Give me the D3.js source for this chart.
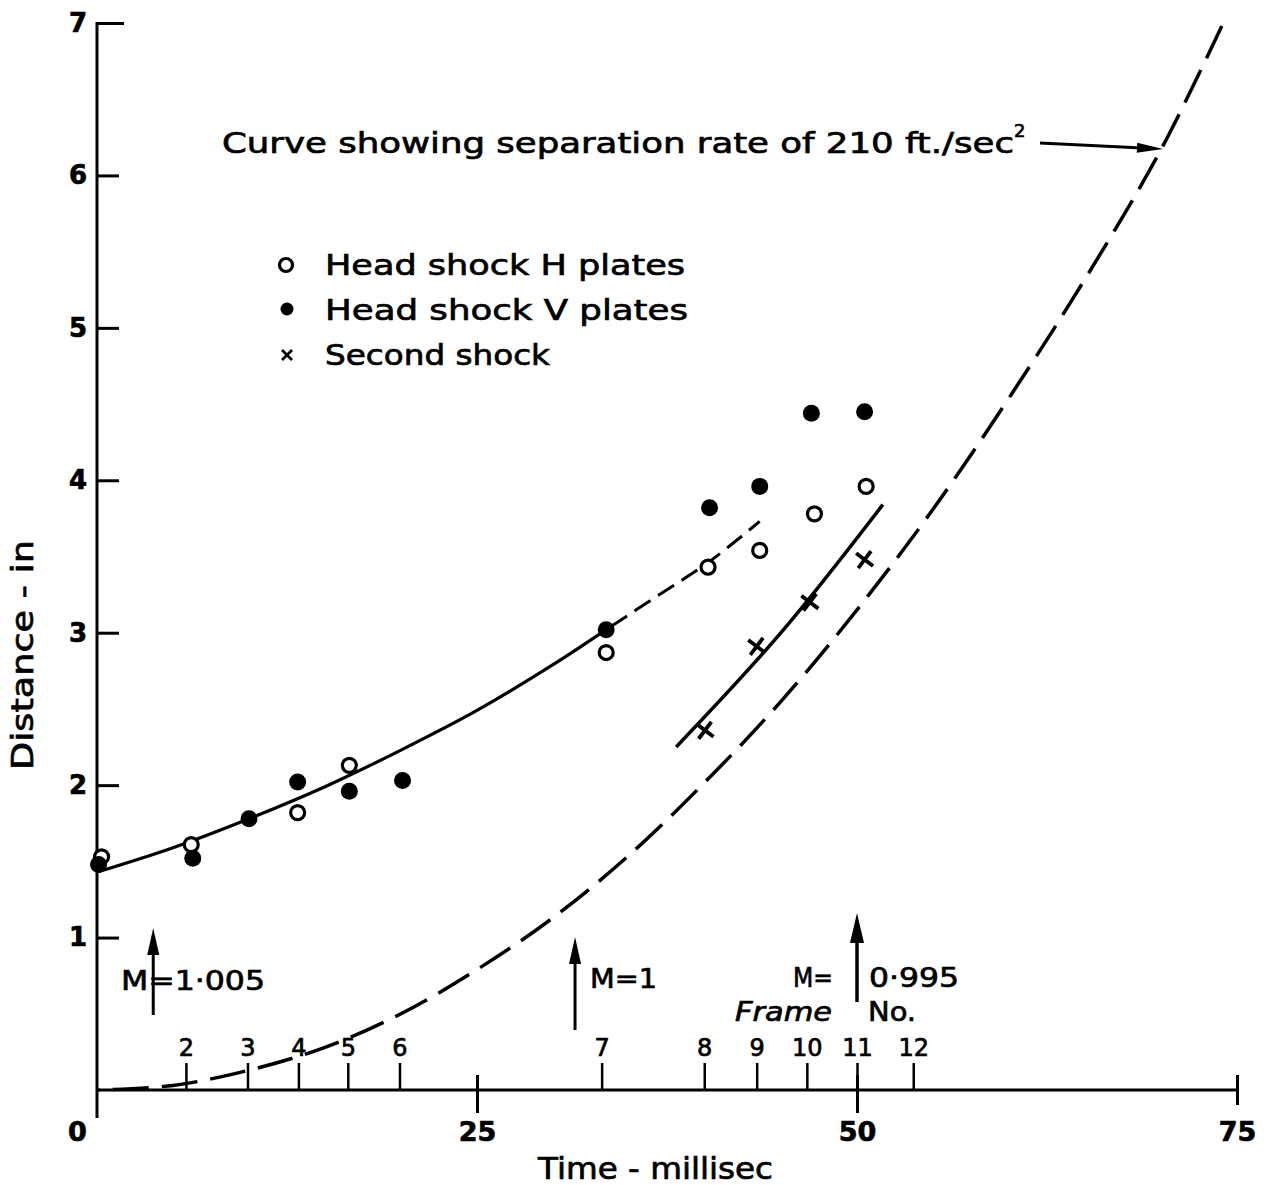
<!DOCTYPE html>
<html><head><meta charset="utf-8">
<script src="https://cdn.jsdelivr.net/npm/d3@7"></script>
<style>
html,body{margin:0;padding:0;background:#fff;}
svg{display:block;}
text{font-family:"DejaVu Sans",sans-serif;fill:#000;stroke:#000;stroke-width:0.7px;}
</style></head>
<body><svg id="c" width="1275" height="1185"></svg>
<script>
// ---- data ----
const hTime = [0.3, 6.2, 13.2, 16.6, 33.5, 40.2, 43.6, 47.2, 50.6];
const hDist = [1.53, 1.61, 1.82, 2.13, 2.87, 3.43, 3.54, 3.78, 3.96];
const vTime = [0.1, 6.3, 10.0, 13.2, 16.6, 20.1, 33.5, 40.3, 43.6, 47.0, 50.5];
const vDist = [1.48, 1.52, 1.78, 2.02, 1.96, 2.03, 3.02, 3.82, 3.96, 4.44, 4.45];
const sTime = [40.0, 43.4, 46.9, 50.5];
const sDist = [2.36, 2.91, 3.20, 3.48];

const headSolidT = [0, 5, 10, 15, 20, 25, 30, 33.5];
const headSolidD = [1.43, 1.59, 1.78, 1.99, 2.23, 2.49, 2.79, 3.02];
const headDashT = [33.5, 37, 40.2, 43.6];
const headDashD = [3.02, 3.25, 3.46, 3.73];
const secondT = [38.1, 45, 51.7];
const secondD = [2.25, 3.0, 3.84];
const sepT = [0, 5, 10, 15, 20, 25, 30, 35, 40, 45, 50, 55, 60, 65, 70, 74.0];
const sepD = [0, 0.03, 0.13, 0.28, 0.50, 0.79, 1.13, 1.54, 2.02, 2.55, 3.15, 3.81, 4.54, 5.32, 6.17, 6.98];

const xTicks = [0, 25, 50, 75];
const yTicks = [1, 2, 3, 4, 5, 6, 7];
const frameNo = ['2','3','4','5','6','7','8','9','10','11','12'];
const frameTime = [5.85, 9.9, 13.25, 16.5, 19.9, 33.2, 39.95, 43.4, 46.7, 50.0, 53.7];

const machT = [3.7, 31.45, 50.0];
const machLabels = ['M=1·005', 'M=1', '0·995'];

// ---- drawing ----
const svg = d3.select('#c');
const x = d3.scaleLinear().domain([0, 75]).range([97, 1237]);
const y = d3.scaleLinear().domain([0, 7]).range([1090, 23]);

// Y axis
const yAx = svg.append('g').attr('transform', `translate(${x(0)},0)`)
  .call(d3.axisLeft(y).tickValues(yTicks).tickSize(-22).tickPadding(10).tickFormat(d3.format('d')));
yAx.select('.domain').remove();
yAx.selectAll('line').attr('stroke', '#000').attr('stroke-width', 3);
yAx.selectAll('text').attr('font-size', 26).attr('font-weight', 'bold').attr('font-family', '"DejaVu Sans",sans-serif');
yAx.selectAll('.tick').filter(d => d === 7).select('line').attr('x2', 27);
svg.append('line').attr('x1', x(0)).attr('x2', x(0)).attr('y1', y(7) - 1).attr('y2', y(0) + 28)
  .attr('stroke', '#000').attr('stroke-width', 3);

// X axis
const xAx = svg.append('g').attr('transform', `translate(0,${y(0)})`)
  .call(d3.axisBottom(x).tickValues(xTicks).tickSize(23).tickPadding(9).tickFormat(d3.format('d')));
xAx.select('.domain').remove();
xAx.selectAll('line').attr('stroke', '#000').attr('stroke-width', 3).attr('y1', d => d === 0 ? 0 : -15);
xAx.selectAll('.tick').filter(d => d === 75).select('line').attr('y2', 15);
xAx.selectAll('.tick').filter(d => d === 0).select('line').remove();
xAx.selectAll('text').attr('font-size', 27).attr('font-weight', 'bold').attr('font-family', '"DejaVu Sans",sans-serif')
  .attr('dx', d => d === 0 ? -20 : 0);
svg.append('line').attr('x1', x(0)).attr('x2', x(75)).attr('y1', y(0)).attr('y2', y(0))
  .attr('stroke', '#000').attr('stroke-width', 3);

// Frame axis
const fAx = svg.append('g').attr('transform', `translate(0,${y(0)})`)
  .call(d3.axisTop(x).tickValues(frameTime).tickSize(27).tickPadding(7).tickFormat((d, i) => frameNo[i]));
fAx.select('.domain').remove();
fAx.selectAll('line').attr('stroke', '#000').attr('stroke-width', 2.5);
fAx.selectAll('text').attr('font-size', 24).attr('font-family', '"DejaVu Sans",sans-serif');

// Curves
const line = d3.line().x(d => x(d[0])).y(d => y(d[1])).curve(d3.curveCatmullRom);
const zip = (a, b) => a.map((v, i) => [v, b[i]]);
svg.append('path').attr('d', line(zip(headSolidT, headSolidD))).attr('fill', 'none').attr('stroke', '#000').attr('stroke-width', 3.2);
svg.append('path').attr('d', line(zip(headDashT, headDashD))).attr('fill', 'none').attr('stroke', '#000').attr('stroke-width', 3)
  .attr('stroke-dasharray', '19 9').attr('stroke-dashoffset', -6);
svg.append('path').attr('d', line.curve(d3.curveNatural)(zip(secondT, secondD))).attr('fill', 'none').attr('stroke', '#000').attr('stroke-width', 3.5);
line.curve(d3.curveCatmullRom);
const sep = svg.append('path').attr('d', line(zip(sepT, sepD))).attr('fill', 'none').attr('stroke', '#000').attr('stroke-width', 3.5)
  .attr('stroke-dasharray', '36 13');
const L = sep.node().getTotalLength();
sep.attr('stroke-dashoffset', ((36 - L) % 49 + 49) % 49);

// Markers
svg.append('g').selectAll('circle').data(zip(hTime, hDist)).join('circle')
  .attr('cx', d => x(d[0])).attr('cy', d => y(d[1])).attr('r', 7)
  .attr('fill', '#fff').attr('stroke', '#000').attr('stroke-width', 3.2);
svg.append('g').selectAll('circle').data(zip(vTime, vDist)).join('circle')
  .attr('cx', d => x(d[0])).attr('cy', d => y(d[1])).attr('r', 8.5).attr('fill', '#000');
const cross = s => `M${-s},${-s}L${s},${s}M${-s},${s}L${s},${-s}`;
svg.append('g').selectAll('path').data(zip(sTime, sDist)).join('path')
  .attr('transform', d => `translate(${x(d[0])},${y(d[1])}) rotate(-8)`)
  .attr('d', cross(7.5)).attr('stroke', '#000').attr('stroke-width', 3.8).attr('fill', 'none');

// Arrow helper
function arrow(x1, y1, x2, y2, hl, hw, sw) {
  const a = Math.atan2(y2 - y1, x2 - x1);
  const bx = x2 - hl * Math.cos(a), by = y2 - hl * Math.sin(a);
  svg.append('line').attr('x1', x1).attr('y1', y1).attr('x2', bx).attr('y2', by)
    .attr('stroke', '#000').attr('stroke-width', sw);
  const px = -Math.sin(a) * hw, py = Math.cos(a) * hw;
  svg.append('path').attr('d', `M${x2},${y2}L${bx + px},${by + py}L${bx - px},${by - py}Z`).attr('fill', '#000');
}

// Mach arrows
arrow(x(machT[0]), 1015, x(machT[0]), 928, 27, 6, 3);
arrow(x(machT[1]), 1030, x(machT[1]), 937, 27, 6, 3);
arrow(x(machT[2]), 1002, x(machT[2]), 913, 30, 7, 3.5);
svg.append('text').attr('x', 121).attr('y', 990).attr('font-size', 27).attr('textLength', 144).attr('lengthAdjust', 'spacingAndGlyphs').text(machLabels[0]);
svg.append('text').attr('x', 590).attr('y', 988).attr('font-size', 27).attr('textLength', 67).attr('lengthAdjust', 'spacingAndGlyphs').text(machLabels[1]);
svg.append('text').attr('x', 793).attr('y', 987).attr('font-size', 27).attr('textLength', 40).attr('lengthAdjust', 'spacingAndGlyphs').text('M=');
svg.append('text').attr('x', 869).attr('y', 987).attr('font-size', 27).attr('textLength', 90).attr('lengthAdjust', 'spacingAndGlyphs').text(machLabels[2]);
svg.append('text').attr('x', 735).attr('y', 1021).attr('font-size', 27).attr('font-style', 'italic').attr('textLength', 97).attr('lengthAdjust', 'spacingAndGlyphs').text('Frame');
svg.append('text').attr('x', 868).attr('y', 1021).attr('font-size', 27).attr('textLength', 48).attr('lengthAdjust', 'spacingAndGlyphs').text('No.');

// Axis titles
svg.append('text').attr('x', 538).attr('y', 1179).attr('font-size', 30).attr('textLength', 235).attr('lengthAdjust', 'spacingAndGlyphs').text('Time - millisec');
svg.append('text').attr('transform', 'translate(33,770) rotate(-90)').attr('font-size', 30).attr('textLength', 230).attr('lengthAdjust', 'spacingAndGlyphs').text('Distance - in');

// Title annotation
const t = svg.append('text').attr('x', 222).attr('y', 153).attr('font-size', 29);
t.append('tspan').attr('textLength', 792).attr('lengthAdjust', 'spacingAndGlyphs').text('Curve  showing  separation  rate  of  210  ft./sec');
t.append('tspan').attr('dy', -16).attr('font-size', 18).text('2');
arrow(1040, 143, 1163, 149, 26, 5, 3);

// Legend
const legend = [
  {label: 'Head  shock   H   plates', y: 263, len: 360},
  {label: 'Head  shock   V   plates', y: 308, len: 363},
  {label: 'Second  shock', y: 353, len: 225}
];
legend.forEach((l, i) => {
  svg.append('text').attr('x', 325).attr('y', l.y + 12).attr('font-size', 29)
    .attr('textLength', l.len).attr('lengthAdjust', 'spacingAndGlyphs').text(l.label);
});
svg.append('circle').attr('cx', 286).attr('cy', 265).attr('r', 6.5).attr('fill', '#fff').attr('stroke', '#000').attr('stroke-width', 3.2);
svg.append('circle').attr('cx', 287).attr('cy', 309).attr('r', 6.5).attr('fill', '#000');
svg.append('path').attr('transform', 'translate(287,355)').attr('d', cross(5)).attr('stroke', '#000').attr('stroke-width', 2.8);
</script></body></html>
